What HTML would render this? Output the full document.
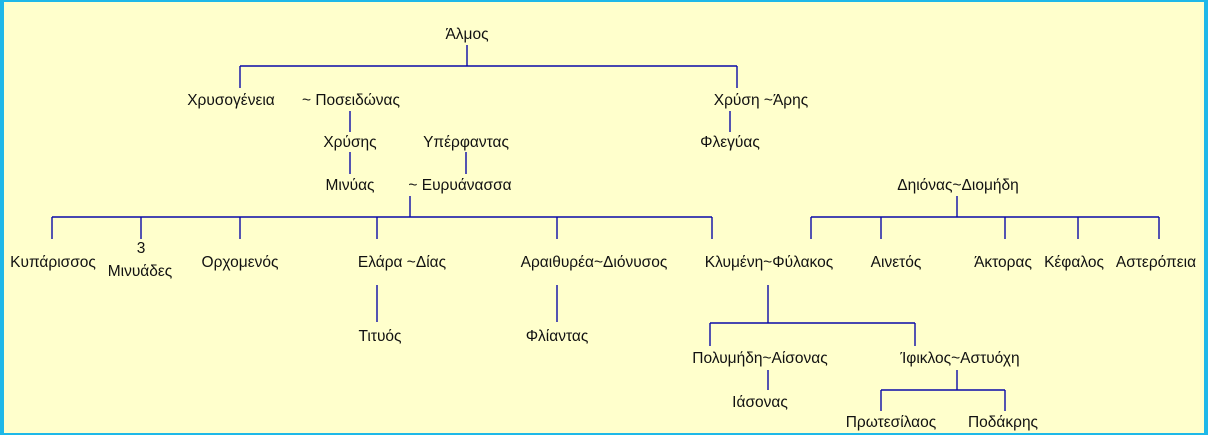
<!DOCTYPE html>
<html><head><meta charset="utf-8"><style>
html,body{margin:0;padding:0;background:#FFFFCC;}
.box{position:absolute;left:0;top:0;width:1208px;height:435px;box-sizing:border-box;border:solid #1EB8E8;border-width:2px 4px 2px 4px;background:#FFFFCC;overflow:hidden}
svg{position:absolute;left:-4px;top:-2px}
text{font-family:"Liberation Sans","DejaVu Sans",sans-serif;font-size:15.5px;fill:#111;text-anchor:middle;dominant-baseline:middle}
line{stroke:#0A0AA8;stroke-width:1.4}
</style></head><body><div class="box">
<svg width="1208" height="435">
<g>
<line x1="467" y1="45" x2="467" y2="66"/>
<line x1="240" y1="66" x2="737" y2="66"/>
<line x1="240" y1="66" x2="240" y2="88"/>
<line x1="737" y1="66" x2="737" y2="88"/>
<line x1="350" y1="111" x2="350" y2="132"/>
<line x1="350" y1="152" x2="350" y2="174"/>
<line x1="466" y1="152" x2="466" y2="174"/>
<line x1="730" y1="111" x2="730" y2="132"/>
<line x1="410" y1="196" x2="410" y2="217"/>
<line x1="52" y1="217" x2="712" y2="217"/>
<line x1="52" y1="217" x2="52" y2="239"/>
<line x1="141" y1="217" x2="141" y2="239"/>
<line x1="240" y1="217" x2="240" y2="239"/>
<line x1="377" y1="217" x2="377" y2="239"/>
<line x1="557" y1="217" x2="557" y2="239"/>
<line x1="712" y1="217" x2="712" y2="239"/>
<line x1="957" y1="196" x2="957" y2="217"/>
<line x1="811" y1="217" x2="1159" y2="217"/>
<line x1="811" y1="217" x2="811" y2="239"/>
<line x1="881" y1="217" x2="881" y2="239"/>
<line x1="1005" y1="217" x2="1005" y2="239"/>
<line x1="1078" y1="217" x2="1078" y2="239"/>
<line x1="1159" y1="217" x2="1159" y2="239"/>
<line x1="377" y1="285" x2="377" y2="322"/>
<line x1="557" y1="285" x2="557" y2="322"/>
<line x1="768" y1="285" x2="768" y2="323"/>
<line x1="710" y1="323" x2="915" y2="323"/>
<line x1="710" y1="323" x2="710" y2="346"/>
<line x1="915" y1="323" x2="915" y2="346"/>
<line x1="768" y1="370" x2="768" y2="390"/>
<line x1="957" y1="370" x2="957" y2="390"/>
<line x1="881" y1="390" x2="1005" y2="390"/>
<line x1="881" y1="390" x2="881" y2="411"/>
<line x1="1005" y1="390" x2="1005" y2="411"/>
</g>
<text x="467" y="35">Άλμος</text>
<text x="231" y="101">Χρυσογένεια</text>
<text x="351" y="101">~ Ποσειδώνας</text>
<text x="761" y="101">Χρύση ~Άρης</text>
<text x="350" y="143">Χρύσης</text>
<text x="466" y="143">Υπέρφαντας</text>
<text x="730" y="143">Φλεγύας</text>
<text x="350" y="186">Μινύας</text>
<text x="460" y="186">~ Ευρυάνασσα</text>
<text x="958" y="186">Δηιόνας~Διομήδη</text>
<text x="53" y="263">Κυπάρισσος</text>
<text x="141" y="249">3</text>
<text x="140" y="272">Μινυάδες</text>
<text x="240" y="263">Ορχομενός</text>
<text x="402" y="263">Ελάρα ~Δίας</text>
<text x="594" y="263">Αραιθυρέα~Διόνυσος</text>
<text x="769" y="263">Κλυμένη~Φύλακος</text>
<text x="896" y="263">Αινετός</text>
<text x="1003" y="263">Άκτορας</text>
<text x="1074" y="263">Κέφαλος</text>
<text x="1156" y="263">Αστερόπεια</text>
<text x="380" y="337">Τιτυός</text>
<text x="557" y="337">Φλίαντας</text>
<text x="760" y="359">Πολυμήδη~Αίσονας</text>
<text x="960" y="359">Ίφικλος~Αστυόχη</text>
<text x="760" y="403">Ιάσονας</text>
<text x="891" y="423">Πρωτεσίλαος</text>
<text x="1003" y="423">Ποδάκρης</text>
</svg>
</div></body></html>
